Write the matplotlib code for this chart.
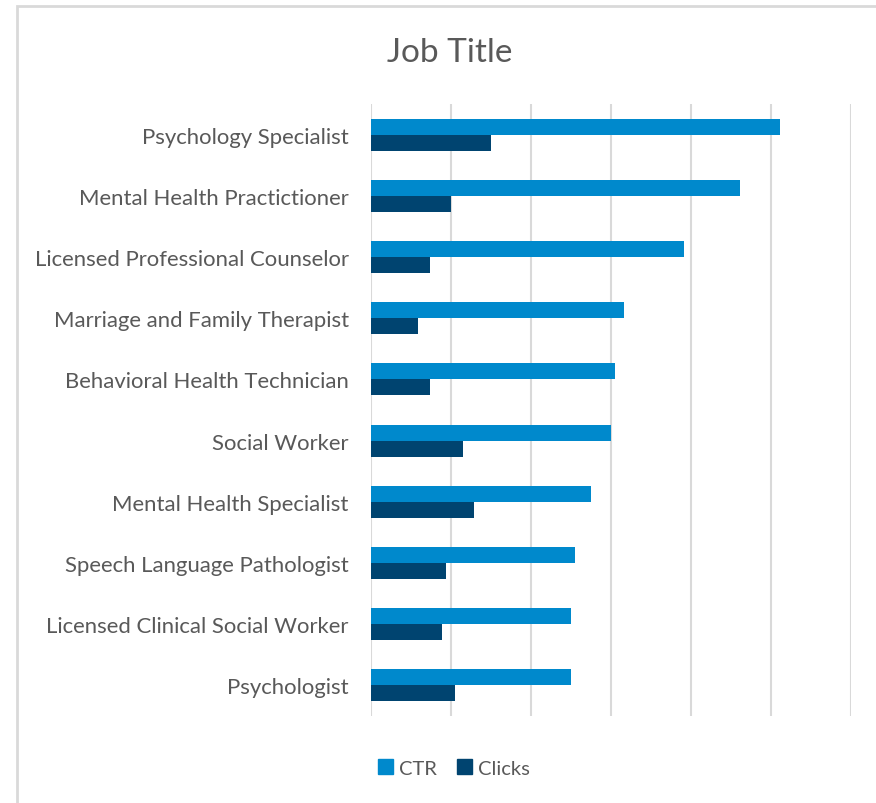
import matplotlib.pyplot as plt
import matplotlib.patches as mpatches
import numpy as np

# data (x unit = one gridline step)
titles = ['Psychology Specialist', 'Mental Health Practictioner',
          'Licensed Professional Counselor', 'Marriage and Family Therapist',
          'Behavioral Health Technician', 'Social Worker',
          'Mental Health Specialist', 'Speech Language Pathologist',
          'Licensed Clinical Social Worker', 'Psychologist']
ctr = [5.11, 4.61, 3.91, 3.16, 3.05, 3.0, 2.75, 2.55, 2.5, 2.5]
clicks = [1.5, 1.0, 0.74, 0.59, 0.74, 1.15, 1.29, 0.94, 0.89, 1.05]

ctr_color = '#0089CC'
clicks_color = '#004470'
text_color = '#595959'

plt.rcParams['font.family'] = ['Lato', 'DejaVu Sans']

fig = plt.figure(figsize=(8.76, 8.04), dpi=100)
ax = fig.add_axes([371 / 876, 1 - 717 / 804, 480 / 876, 612 / 804])

y = np.arange(len(titles))
h = 0.262
ax.barh(y - h / 2, ctr, height=h, color=ctr_color, label='CTR')
ax.barh(y + h / 2, clicks, height=h, color=clicks_color, label='Clicks')

ax.set_xlim(0, 6)
ax.set_ylim(len(titles) - 0.5, -0.5)
ax.set_xticks(range(7))
ax.set_xticklabels([])
ax.set_yticks(y)
ax.set_yticklabels(titles, fontsize=15.9, color=text_color)
ax.tick_params(length=0, pad=16)
ax.grid(axis='x', color='#d9d9d9', linewidth=1.5)
ax.set_axisbelow(True)
for s in ax.spines.values():
    s.set_visible(False)

fig.text(450 / 876, 1 - 53 / 804, 'Job Title', fontsize=24, color=text_color,
         ha='center', va='center')

handles = [mpatches.Patch(color=ctr_color, label='CTR'),
           mpatches.Patch(color=clicks_color, label='Clicks')]
fig.legend(handles=handles, loc='center', bbox_to_anchor=(454 / 876, 1 - 769 / 804),
           ncol=2, frameon=False, fontsize=14.5, labelcolor=text_color,
           handlelength=0.75, handleheight=0.75, handletextpad=0.3, columnspacing=1.0)

# light frame around the chart area
fig.patches.append(mpatches.Rectangle((17 / 876, -0.01), 1.0, 1 - 7 / 804 + 0.01,
                                      transform=fig.transFigure, fill=False,
                                      edgecolor='#d9d9d9', linewidth=2))

fig.savefig('out.png', dpi=100, facecolor='white')
